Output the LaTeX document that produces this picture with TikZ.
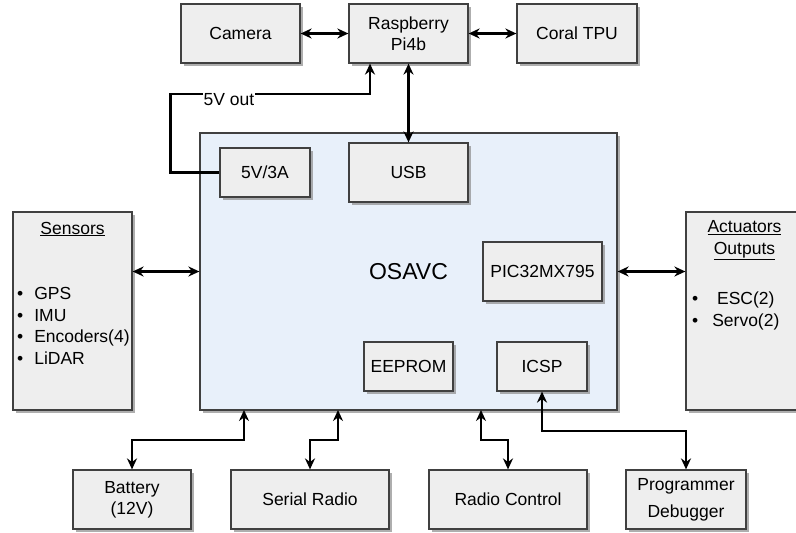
\documentclass[tikz,border=0pt]{standalone}
\usepackage{fontspec}
\setmainfont{Liberation Sans}
\usetikzlibrary{arrows.meta,shadows}

\definecolor{boxgray}{HTML}{EEEEEE}
\definecolor{boardblue}{HTML}{E8F0FA}
\definecolor{edgegray}{HTML}{404040}

\tikzset{
    blk/.style={draw=edgegray, fill=boxgray, line width=1.2pt,
        minimum width=#1, minimum height=59, inner sep=0pt, align=center,
        drop shadow={shadow xshift=3pt, shadow yshift=-3pt, fill=black!45, opacity=.7}},
    part/.style={blk=#1, minimum height=49},
    conn/.style={<->, line width=2.2pt},
    pwr/.style={->, line width=2.2pt},
}

\begin{document}
\begin{tikzpicture}[x=1pt, y=-1pt, >={Stealth[length=11pt,width=10pt]},
    font=\fontsize{17.5}{21}\selectfont]
    \useasboundingbox (0,0) rectangle (796,533);

    % top row
    \node[blk=119] (cam) at (240.5,33.5) {Camera};
    \node[blk=119] (rpi) at (408.5,33.5) {Raspberry\\Pi4b};
    \node[blk=120] (tpu) at (577,33.5) {Coral TPU};

    % board
    \node[blk=417, minimum height=277, fill=boardblue] (osavc) at (408.5,271.5) {};
    \node[font=\fontsize{23}{27}\selectfont] (osavclbl) at (408.5,271.5) {OSAVC};
    \node[part=90] (v5) at (265,172.5) {5V/3A};
    \node[blk=119] (usb) at (408.5,172.5) {USB};
    \node[blk=119] (pic) at (542.5,271.5) {PIC32MX795};
    \node[part=89] (eeprom) at (408.5,366.5) {EEPROM};
    \node[part=90] (icsp) at (542,366.5) {ICSP};

    % side boxes
    \node[blk=119, minimum height=198] (sens) at (72.5,311) {};
    \node (senstitle) at (72.5,229) {\underline{Sensors}};
    \node[anchor=west, align=left, inner sep=0pt, font=\fontsize{17.5}{21.7}\selectfont]
        (senslist) at (17,326)
        {\textbullet\hspace{11pt}GPS\\\textbullet\hspace{11pt}IMU\\
         \textbullet\hspace{11pt}Encoders(4)\\\textbullet\hspace{11pt}LiDAR};
    \node[blk=119, minimum height=198] (act) at (745.5,311) {};
    \node[align=center, font=\fontsize{17.5}{22}\selectfont] (acttitle) at (744.5,240)
        {\underline{Actuators}\\\underline{Outputs}};
    \node[anchor=west, align=left, inner sep=0pt, font=\fontsize{17.5}{22}\selectfont]
        (actlist) at (692,311)
        {\textbullet\makebox[95pt]{ESC(2)}\\\textbullet\makebox[95pt]{Servo(2)}};

    % bottom row
    \node[blk=118] (bat) at (132,499.5) {Battery\\(12V)};
    \node[blk=158] (srad) at (310,499.5) {Serial Radio};
    \node[blk=158] (rc) at (508,499.5) {Radio Control};
    \node[blk=120] (prog) at (686,499.5) {Programmer\\[6pt]Debugger};

    \coordinate (pwrin) at ([xshift=-38.5pt]rpi.south);
    \coordinate (obat) at (244,410);
    \coordinate (osr) at (338,410);
    \coordinate (orc) at (481,410);

    \draw[conn] (cam) -- (rpi);
    \draw[conn] (rpi) -- (tpu);
    \draw[conn] (rpi) -- (usb);
    \draw[pwr] (v5.west) -- ++(-49,0) |- (pwrin |- 0,94) -- (pwrin);
    \node[fill=white, inner sep=1pt] (pwrlbl) at (229,100) {5V out};

    \draw[conn] (sens.east |- osavc.west) -- (osavc.west);
    \draw[conn] (osavc.east) -- (act.west |- osavc.east);

    \draw[conn] (bat.north) |- (obat |- 0,440) -- (obat);
    \draw[conn] (srad.north) |- (osr |- 0,440) -- (osr);
    \draw[conn] (orc) |- (rc.north |- 0,440) -- (rc.north);
    \draw[conn] (icsp.south) |- (prog.north |- 0,431) -- (prog.north);
\end{tikzpicture}
\end{document}
